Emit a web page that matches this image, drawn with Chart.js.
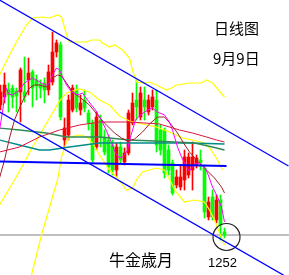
<!DOCTYPE html>
<html><head><meta charset="utf-8">
<script src="https://cdn.jsdelivr.net/npm/chart.js@4/dist/chart.umd.min.js"></script>
<style>
html,body{margin:0;padding:0;background:#fff;overflow:hidden;}
#wrap{position:relative;width:289px;height:275px;background:#fff;}
canvas{position:absolute;left:0;top:0;}
.t{position:absolute;white-space:nowrap;color:#000;font-family:"Noto Sans CJK SC",sans-serif;}
</style></head><body>
<div id="wrap"><canvas id="c" width="289" height="275"></canvas>
<div class="t" style="left:214px;top:19px;font-size:15px;line-height:18px">日线图</div>
<div class="t" style="left:213px;top:49px;font-size:15px;line-height:18px">9月9日</div>
<div class="t" style="left:109px;top:249px;font-size:16px;line-height:20px;font-family:'Noto Sans CJK JP',sans-serif">牛金歳月</div>
<div class="t" style="left:208px;top:255px;font-size:13px;line-height:16px;font-family:'Liberation Sans',sans-serif">1252</div>
</div>
<script>
// candle index (daily bars), OHLC prices
const openP = [1317,1321,1324.5,1325.5,1324,1323.5,1323.5,1329.5,1333.5,1329.5,1327.5,1328,1324.5,1328.5,1343.5,1347,1299.5,1302,1314.5,1324.5,1314.5,1319.5,1313,1308,1296,1309.5,1301,1299.5,1297,1284.5,1296,1288.5,1293,1308,1319.5,1311,1319.5,1313.5,1316,1319.5,1304.5,1304.5,1294.5,1288,1277,1276,1279.5,1282,1284.5,1287,1289.5,1285.5,1261,1271,1259.5,1269.5,1253.5];
const highP = [1327,1333,1328,1327,1325.5,1335.5,1341,1340.5,1334.5,1332,1329.5,1330.5,1337,1353.5,1349.5,1348.5,1310.5,1322,1327,1327,1322,1324.5,1314.5,1309.5,1313.5,1312,1304.5,1302,1299.5,1298,1298.5,1295.5,1314.5,1323,1329.5,1326,1326,1322,1324.5,1324.5,1307,1305.5,1297,1289.5,1284.5,1287,1294.5,1293,1298.5,1292,1294.5,1287,1271,1274.5,1272,1272,1255.5];
const lowP = [1314.5,1318,1313.5,1315.5,1313.5,1308.5,1318.5,1322,1316,1319.5,1320.5,1318,1322,1327,1341,1309.5,1295.5,1299.5,1313.5,1313.5,1312,1313.5,1304.5,1288.5,1294.5,1296,1292,1283,1282,1281,1288,1287,1292,1307,1309.5,1309.5,1309.5,1312,1314.5,1293.5,1292,1280.5,1282,1272,1275.5,1274.5,1274.5,1280.5,1274.5,1285.5,1284.5,1260.5,1259.5,1259.5,1258,1249.5,1250.5];
const closeP = [1323.5,1327,1322,1321,1321.5,1334.5,1321,1333,1325.5,1326.5,1325.5,1324.5,1333.5,1343.5,1348,1311,1305.5,1319.5,1325.5,1315.5,1318,1315.5,1308,1289.5,1311,1301,1293.5,1286,1284.5,1296,1289.5,1293,1313,1318,1316,1323,1316,1319.5,1321,1297,1294.5,1283,1284.5,1273,1281,1281,1291,1291,1291,1290.5,1288,1263.5,1268.5,1261,1269.5,1257,1252];

// indicator lines: [candle index, price]
const bollUpper = [[-0.25,1332],[2.25,1342],[4.25,1349.5],[6.5,1357],[8,1360.5],[10.5,1361],[12.25,1360.5],[14.25,1362],[15.25,1361],[16.75,1350.5],[17.25,1348.5],[21.5,1348.5],[22.75,1349.5],[24.75,1349.5],[25.5,1348],[27.25,1346],[28.5,1347],[30.5,1344.5],[32.25,1340.5],[33,1334.5],[34,1328.5],[35.5,1328],[37.25,1328.5],[39,1327],[41.5,1324.5],[42.75,1325.5],[44,1327],[47.25,1328],[50.25,1328],[51.5,1329.5],[53,1328],[56,1321]];
const bollMid = [[-0.25,1267],[3.5,1279.5],[6,1288.5],[8,1296],[10.5,1304.5],[13,1313],[14.75,1319],[16.5,1323],[19.75,1325],[22.25,1323.5],[24.75,1319.5],[27.25,1317],[29.75,1311.5],[32.25,1309],[36.5,1307],[39,1306],[42.25,1303.5],[45.5,1300.5],[48,1299.5],[51,1298],[52.25,1295.5],[54,1290.5],[55.5,1284.5]];
const bollLower = [[7.75,1232],[10.25,1252],[13,1271],[14.25,1279.5],[15.25,1291],[16,1295.5],[16.5,1298.5],[17.25,1301],[19.75,1302],[21.75,1301],[23,1298],[24.75,1292],[27.25,1284.5],[29,1281],[30.5,1277],[31.5,1274.5],[33,1275.5],[34,1279.5],[35.5,1283.5],[39,1285.5],[41,1284.5],[42.75,1278],[43.5,1274.5],[46,1268.5],[48.5,1269.5],[51,1268.5],[52.25,1264.5],[53.5,1259.5],[54.75,1253],[56,1247]];
const ma5 = [[-0.25,1304.5],[0.5,1313.5],[1,1321],[1.5,1325.5],[2,1322.5],[3,1322],[4.75,1324.5],[6,1328],[7.25,1329.5],[8,1330.5],[9,1329.5],[10.25,1328],[11.5,1327],[12.25,1328],[13,1332],[14,1335.5],[14.75,1334.5],[15.5,1331],[16.5,1327],[17.75,1323.5],[19.25,1322],[20.5,1323],[21.75,1319.5],[23.75,1314.5],[25.5,1308.5],[27.5,1299.5],[28.75,1293],[29.75,1290.5],[30.5,1291],[31.75,1294.5],[32.5,1301],[33.75,1309.5],[35,1312],[36.75,1314.5],[38,1315.5],[39.25,1313.5],[41,1312],[42.25,1308.5],[43,1304.5],[44.25,1296],[45.25,1291],[46.5,1286],[47.25,1284],[48.5,1287.5],[49.75,1288],[51,1286],[51.75,1283],[53,1276],[54.25,1271],[55.25,1266],[56,1258.5]];
const ma10 = [[-0.25,1280.5],[1,1289.5],[2.25,1300.5],[3.5,1309.5],[4.75,1315.5],[6,1321],[7.25,1325.5],[8.5,1327],[9.75,1327],[11.5,1326],[13,1330.5],[14.25,1332],[15.25,1331.5],[16.5,1328],[18,1323.5],[19.75,1321],[22.25,1317],[24.25,1312],[26,1308],[28.5,1303],[30.25,1300.5],[31.75,1299],[33.5,1300],[35.5,1303.5],[37.25,1307.5],[39.25,1311],[41,1311],[42.75,1307],[44.25,1303],[45.75,1298],[47.25,1293.5],[49,1289.5],[51,1285.5],[53.5,1280.5],[55.25,1276],[56,1273]];
const ma20 = [[-0.25,1293.5],[4.75,1296],[9.75,1301],[14.75,1304.5],[19.75,1307],[24.75,1308.5],[32.25,1308.5],[39.75,1307.5],[44.75,1304.5],[48,1303],[51.5,1301],[54,1299.5],[56,1298.5]];
const ma40 = [[-0.25,1305.5],[4.75,1304.5],[11.5,1303],[16.5,1301],[24.75,1301],[32.25,1299.5],[38.5,1299],[43.5,1298.5],[48.5,1298],[53,1296],[56,1294.5]];
const ma60 = [[-0.25,1299.5],[4.75,1297],[9.75,1294.5],[12.25,1294.5],[17.25,1296],[24.75,1298],[32.25,1298],[39.75,1298],[47.25,1298],[56,1297.5]];
const levelLine = [[-0.25,1288.75],[56.5,1286.5]];
const channelUpper = [[-0.25,1369.5],[72,1286.5]];
const channelLower = [[-0.25,1313.5],[72,1230.5]];
const supportLevel = [[-0.25,1252],[72.25,1252]];
const markLow = [[56.5,1251]];

const pts = a => a.map(p => ({x:p[0], y:p[1]}));
const up = i => closeP[i] >= openP[i];
const candleColor = ctx => up(ctx.dataIndex) ? '#ff0000' : '#00ff00';

function line(data, color, width, order){
  return {type:'line', data:pts(data), borderColor:color, borderWidth:width, pointRadius:0, tension:0, fill:false, order:order};
}

new Chart(document.getElementById('c'), {
  type:'bar',
  data:{datasets:[
    line(channelUpper,'#0000ff',1.3,0),
    line(channelLower,'#0000ff',1.3,0),
    {type:'bubble', data:markLow.map(p=>({x:p[0],y:p[1],r:13.5})), backgroundColor:'rgba(0,0,0,0)', borderColor:'#222', borderWidth:1.2, order:0},
    line(levelLine,'#0000ff',2,1),
    line(ma5,'#ff00ff',1,1),
    line(ma10,'#a0202a',1,1),
    line(ma20,'#dc143c',1,1),
    line(ma40,'#2e8b57',1.3,1),
    line(ma60,'#008b8b',1.3,1),
    line(bollUpper,'#ffff00',1.2,1),
    line(bollMid,'#ffff00',1.2,1),
    line(bollLower,'#ffff00',1.2,1),
    {type:'bar', data:openP.map((o,i)=>({x:i, y:[o, closeP[i]]})), backgroundColor:candleColor, barThickness:3, grouped:false, borderWidth:0, order:2},
    {type:'bar', data:lowP.map((l,i)=>({x:i, y:[l, highP[i]]})), backgroundColor:candleColor, barThickness:1, grouped:false, borderWidth:0, order:3},
    line(supportLevel,'#808080',1,4)
  ]},
  options:{
    responsive:false, animation:false, devicePixelRatio:1,
    layout:{padding:0, autoPadding:false},
    plugins:{legend:{display:false}, tooltip:{enabled:false}},
    events:[],
    scales:{
      x:{type:'linear', min:-0.125, max:72.125, display:false, offset:false},
      y:{type:'linear', min:1232, max:1369.5, display:false}
    }
  }
});
</script>
</body></html>
